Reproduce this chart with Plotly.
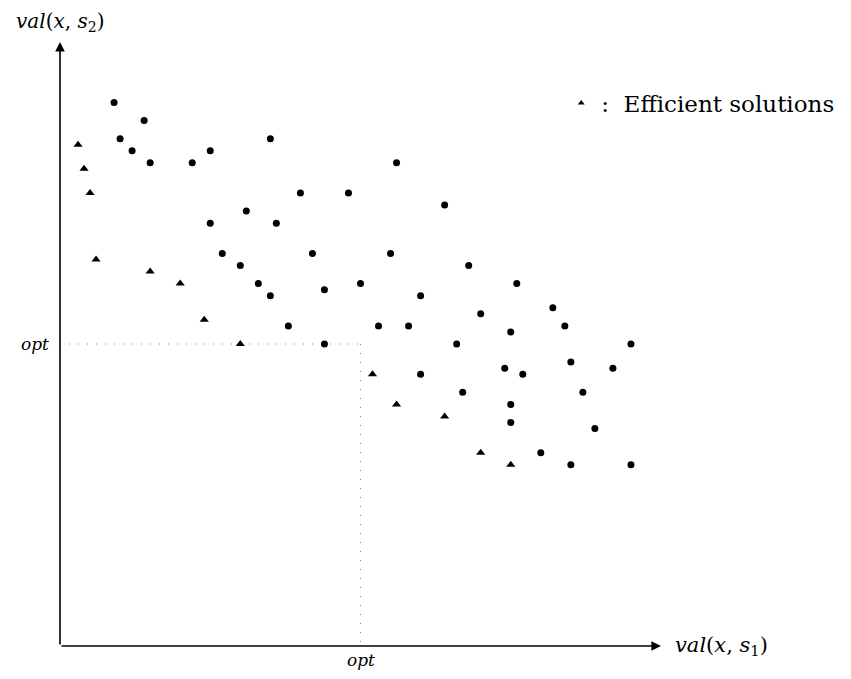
import plotly.graph_objects as go

# Data (grid units)
eff_x = [3, 4, 5, 6, 15, 20, 24, 30, 52, 56, 64, 70, 75]
eff_y = [83, 79, 75, 64, 62, 60, 54, 50, 45, 40, 38, 32, 30]

dom_x = [9, 14, 10, 35, 12, 25, 15, 22, 40, 48, 31, 25, 36, 27, 42, 30, 56, 64, 55, 68,
         44, 50, 60, 76, 70, 82, 53, 58, 84, 33, 35, 38, 44, 75, 66, 95, 85, 74, 92, 60,
         77, 67, 87, 75, 75, 89, 80, 85, 95]
dom_y = [90, 87, 84, 84, 82, 82, 80, 80, 75, 75, 72, 70, 70, 65, 65, 63, 80, 73, 65, 63,
         59, 60, 58, 60, 55, 56, 53, 53, 53, 60, 58, 53, 50, 52, 50, 50, 47, 46, 46, 45,
         45, 42, 42, 40, 37, 36, 32, 30, 30]

opt = 50
axis_max = 100
legend_label = ":  Efficient solutions"

serif = "DejaVu Serif"

fig = go.Figure()
fig.add_trace(go.Scatter(x=dom_x, y=dom_y, mode="markers",
                         marker=dict(symbol="circle", size=7, color="black"),
                         showlegend=False, hoverinfo="skip"))
fig.add_trace(go.Scatter(x=eff_x, y=eff_y, mode="markers",
                         marker=dict(symbol="triangle-up", size=8, color="black"),
                         showlegend=False, hoverinfo="skip"))
# legend-only entry (small triangle key, as in the reference)
fig.add_trace(go.Scatter(x=[None], y=[None], mode="markers",
                         marker=dict(symbol="triangle-up", size=6, color="black"),
                         name=legend_label, showlegend=True, hoverinfo="skip"))

# dotted opt guides
dot = dict(color="#8a8a8a", width=1, dash="1px,8px")
fig.add_shape(type="line", x0=0, y0=opt, x1=opt, y1=opt, line=dot, layer="below")
fig.add_shape(type="line", x0=opt, y0=opt, x1=opt, y1=0, line=dot, layer="below")

# axes arrows
arrow = dict(xref="x", yref="y", axref="x", ayref="y", text="", showarrow=True,
             arrowhead=2, arrowsize=1.2, arrowwidth=1.6, arrowcolor="black")
fig.add_annotation(x=axis_max, y=0, ax=0, ay=0, **arrow)
fig.add_annotation(x=0, y=axis_max, ax=0, ay=0, **arrow)

# labels
fig.add_annotation(x=axis_max, y=0, xref="x", yref="y", xanchor="left", yanchor="middle",
                   xshift=12, showarrow=False,
                   text="<i>val</i>(<i>x</i>, <i>s</i><sub>1</sub>)",
                   font=dict(family=serif, size=21, color="black"))
fig.add_annotation(x=0, y=axis_max, xref="x", yref="y", xanchor="center", yanchor="bottom",
                   yshift=5, showarrow=False,
                   text="<i>val</i>(<i>x</i>, <i>s</i><sub>2</sub>)",
                   font=dict(family=serif, size=20, color="black"))
fig.add_annotation(x=0, y=opt, xref="x", yref="y", xanchor="right", yanchor="middle",
                   xshift=-9, showarrow=False, text="<i>opt</i>",
                   font=dict(family=serif, size=17, color="black"))
fig.add_annotation(x=opt, y=0, xref="x", yref="y", xanchor="center", yanchor="top",
                   yshift=-2, showarrow=False, text="<i>opt</i>",
                   font=dict(family=serif, size=17, color="black"))

fig.update_xaxes(range=[0, axis_max], visible=False, fixedrange=True)
fig.update_yaxes(range=[0, axis_max], visible=False, fixedrange=True)

fig.update_layout(
    width=843, height=671,
    margin=dict(l=52, r=187, t=34, b=33),
    plot_bgcolor="white", paper_bgcolor="white",
    legend=dict(x=0.834, y=0.899, xanchor="left", yanchor="middle",
                font=dict(family=serif, size=23, color="black"),
                bgcolor="rgba(0,0,0,0)", itemwidth=30),
)

fig.write_html("out.html")
